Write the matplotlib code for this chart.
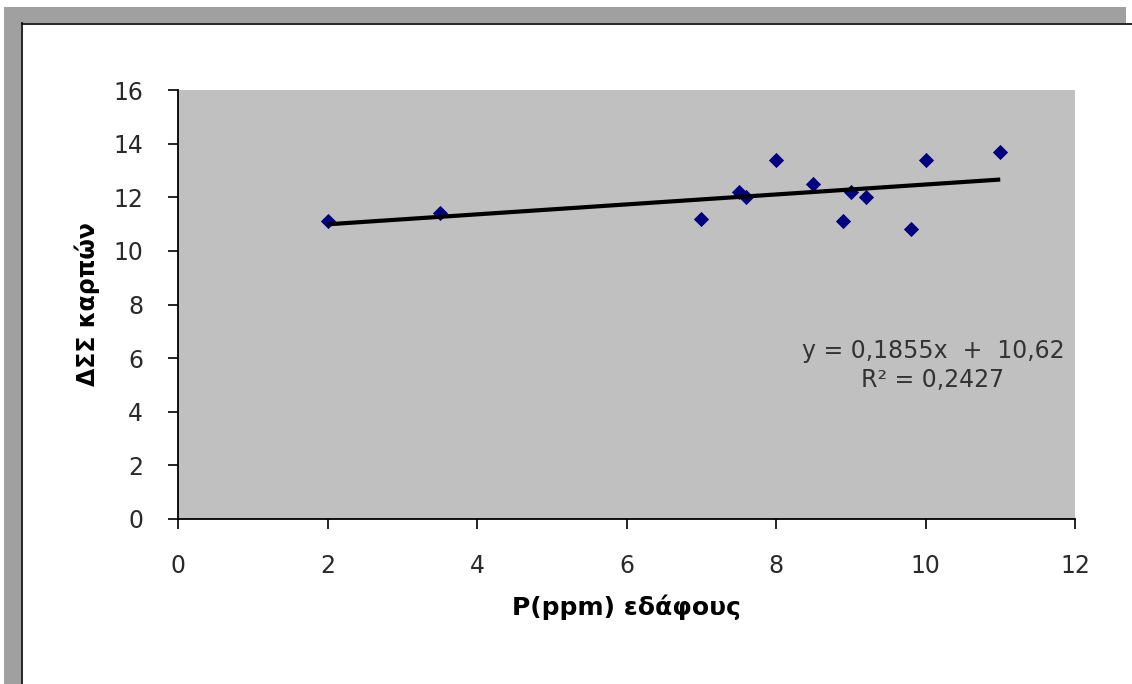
import numpy as np
import matplotlib.pyplot as plt
from matplotlib.patches import Rectangle
from matplotlib.lines import Line2D

# data
p_soil = [2.0, 3.5, 7.0, 7.5, 7.6, 8.0, 8.5, 8.9, 9.0, 9.2, 9.8, 10.0, 11.0]
dss_fruit = [11.1, 11.4, 11.2, 12.2, 12.0, 13.4, 12.5, 11.1, 12.2, 12.0, 10.8, 13.4, 13.7]
slope, intercept = 0.1855, 10.62
r2 = 0.2427

x_ticks = [0, 2, 4, 6, 8, 10, 12]
y_ticks = [0, 2, 4, 6, 8, 10, 12, 14, 16]


def main():
    fig = plt.figure(figsize=(11.32, 6.84), dpi=100)
    fig.patch.set_facecolor('white')
    W, H = 1132, 684

    # screenshot frame: grey bands on top and left, thin black line inside
    fig.patches.append(Rectangle((4 / W, 0), 17 / W, 673 / H, transform=fig.transFigure,
                                 facecolor='#a0a0a0', edgecolor='none', zorder=0))
    fig.patches.append(Rectangle((4 / W, (H - 23) / H), 1122 / W, 16 / H, transform=fig.transFigure,
                                 facecolor='#a0a0a0', edgecolor='none', zorder=0))
    fig.lines.append(Line2D([21.5 / W, 21.5 / W], [0, (H - 23) / H], transform=fig.transFigure,
                            color='black', lw=1.2))
    fig.lines.append(Line2D([21.5 / W, 1], [(H - 23.5) / H, (H - 23.5) / H], transform=fig.transFigure,
                            color='black', lw=1.2))

    ax = fig.add_axes([178 / W, (H - 519) / H, (1075 - 178) / W, (519 - 90) / H])
    ax.set_facecolor('#c0c0c0')

    ax.scatter(p_soil, dss_fruit, marker='D', s=60, color='#000080', zorder=3, linewidths=0)

    xs = np.array([min(p_soil), max(p_soil)])
    ax.plot(xs, slope * xs + intercept, color='black', lw=3, zorder=4, solid_capstyle='butt')

    ax.set_xlim(0, 12)
    ax.set_ylim(0, 16)
    ax.set_xticks(x_ticks)
    ax.set_yticks(y_ticks)

    for side in ['top', 'right']:
        ax.spines[side].set_visible(False)
    for side in ['left', 'bottom']:
        ax.spines[side].set_color('black')
        ax.spines[side].set_linewidth(1.3)

    ax.tick_params(axis='x', direction='out', length=7, width=1.2, pad=18,
                   labelsize=17, labelcolor='#2a2a2a')
    ax.tick_params(axis='y', direction='out', length=7, width=1.2, pad=18,
                   labelsize=17, labelcolor='#2a2a2a')

    ax.set_xlabel('P(ppm) εδάφους', fontsize=18, fontweight='bold', labelpad=12)
    ax.set_ylabel('ΔΣΣ καρπών', fontsize=17, fontweight='bold', labelpad=10)

    eq = f'y = {slope:.4f}x  +  {intercept:.2f}\nR² = {r2:.4f}'.replace('.', ',')
    ax.text(10.1, 5.72, eq, ha='center', va='center', fontsize=17,
            color='#333333', linespacing=1.3, zorder=5)

    fig.savefig('out.png', dpi=100, facecolor='white')


if __name__ == "__main__":
    main()
